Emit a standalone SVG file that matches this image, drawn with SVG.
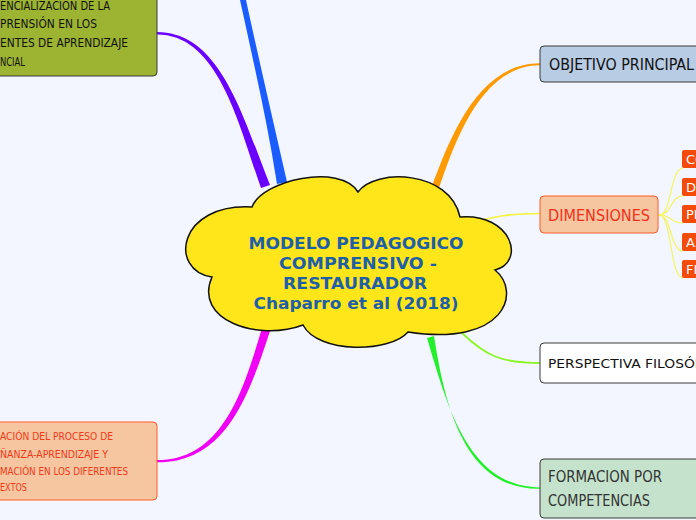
<svg xmlns="http://www.w3.org/2000/svg" width="696" height="520" viewBox="0 0 696 520">
<style>
.hand{font-family:"DejaVu Sans Condensed","DejaVu Sans","Liberation Sans",sans-serif;font-stretch:condensed}
.main{font-family:"DejaVu Sans","Verdana",sans-serif;font-weight:bold;font-size:16px;fill:#1e5fa8;text-anchor:middle}
.peach{fill:#f6c6a0;stroke:#ff5a2a;stroke-width:1}
.dark{stroke:#3a3a3a;stroke-width:1}
.sub{fill:#f44a0a}
.subt{font-family:"DejaVu Sans",sans-serif;font-size:13px;fill:#ffffff}
.thin{fill:none;stroke-linecap:round}
</style>
<rect x="0" y="0" width="696" height="520" fill="#f3f6fe"/>
<g id="connectors">
  <path d="M277,184 C267,120 253,60 240,0 L246,0 C259,60 273,120 287,182 Z" fill="#1a5cff"/>
  <path d="M261,188 C238,122 218,34.5 157,34.5 L157,32 C221,32 243,118 270,185 Z" fill="#6a00ff"/>
  <path d="M432,186 C450,138 478,63.3 540,63.3 L540,65.2 C481,65.5 455,142 439,188 Z" fill="#ff9a00"/>
  <path d="M470,224 C492,216 512,213.5 540,213.5" class="thin" stroke="#f3f33a" stroke-width="1.6"/>
  <path d="M462,333 C485,355 500,363 540,363" class="thin" stroke="#8cf52a" stroke-width="1.8"/>
  <path d="M427,338 C447,405 468,487 540,487.4 L540,488.8 C464,490 445,405 434,336 Z" fill="#22f02a"/>
  <path d="M262,328 C243,392 222,460 157,460 L157,462.2 C226,463 249,395 270,331 Z" fill="#f000f5"/>
  <g class="thin" stroke="#f5f560" stroke-width="1.2">
    <path d="M659,215 C672,215 670,168 683,168"/>
    <path d="M659,215 C672,215 670,196 683,196"/>
    <path d="M659,215 C672,215 670,223 683,223"/>
    <path d="M659,215 C672,215 670,251 683,251"/>
    <path d="M659,215 C672,215 670,278 683,278"/>
  </g>
</g>
<g id="center">
  <path d="M252,207 C262,180 340,163 358,192 C375,168 450,170 460,217 C512,213 526,262 495,270 C522,292 505,347 408,332 C390,353 318,354 303,325 C258,342 193,320 212,277 C168,270 178,203 252,207 Z" fill="#ffe61a" stroke="#111" stroke-width="1.5"/>
  <text class="main" x="356" y="249" textLength="215" lengthAdjust="spacingAndGlyphs">MODELO PEDAGOGICO</text>
  <text class="main" x="358" y="269" textLength="158" lengthAdjust="spacingAndGlyphs">COMPRENSIVO -</text>
  <text class="main" x="355" y="289" textLength="144" lengthAdjust="spacingAndGlyphs">RESTAURADOR</text>
  <text class="main" x="356" y="309" textLength="205" lengthAdjust="spacingAndGlyphs">Chaparro et al (2018)</text>
</g>
<g id="node-potencializacion">
  <rect x="-10" y="-10" width="167" height="86" rx="4" fill="#9cb432" class="dark"/>
  <g class="hand" font-size="12" fill="#111">
    <text x="0" y="10" textLength="110" lengthAdjust="spacingAndGlyphs">ENCIALIZACIÓN DE LA</text>
    <text x="0" y="28" textLength="97" lengthAdjust="spacingAndGlyphs">PRENSIÓN EN LOS</text>
    <text x="0" y="47" textLength="128" lengthAdjust="spacingAndGlyphs">ENTES DE APRENDIZAJE</text>
    <text x="0" y="66" textLength="25" lengthAdjust="spacingAndGlyphs">NCIAL</text>
  </g>
</g>
<g id="node-objetivo">
  <rect x="540" y="46" width="170" height="36" rx="4" fill="#b8cce4" class="dark"/>
  <text class="hand" x="549" y="70" font-size="15" fill="#111" textLength="145" lengthAdjust="spacingAndGlyphs">OBJETIVO PRINCIPAL</text>
</g>
<g id="node-dimensiones">
  <rect x="540" y="196" width="118" height="37" rx="4" class="peach"/>
  <text class="hand" x="548" y="221" font-size="16" fill="#f0301a" textLength="102" lengthAdjust="spacingAndGlyphs">DIMENSIONES</text>
</g>
<g id="node-dim-1"><rect x="682" y="150" width="30" height="18" rx="2" class="sub"/><text class="subt" x="686" y="164">CO</text></g>
<g id="node-dim-2"><rect x="682" y="178" width="30" height="18" rx="2" class="sub"/><text class="subt" x="686" y="192">DI</text></g>
<g id="node-dim-3"><rect x="682" y="205" width="30" height="18" rx="2" class="sub"/><text class="subt" x="686" y="219">PE</text></g>
<g id="node-dim-4"><rect x="682" y="233" width="30" height="18" rx="2" class="sub"/><text class="subt" x="686" y="247">AX</text></g>
<g id="node-dim-5"><rect x="682" y="260" width="30" height="18" rx="2" class="sub"/><text class="subt" x="686" y="274">FI</text></g>
<g id="node-perspectiva">
  <rect x="540" y="343" width="170" height="40" rx="4" fill="#ffffff" class="dark"/>
  <text class="hand" x="548" y="368" font-size="13" fill="#111" textLength="178" lengthAdjust="spacingAndGlyphs">PERSPECTIVA FILOSÓFICA</text>
</g>
<g id="node-formacion">
  <rect x="540" y="459" width="170" height="59" rx="4" fill="#c5e3cc" class="dark"/>
  <g class="hand" font-size="15" fill="#333">
    <text x="548" y="482" textLength="114" lengthAdjust="spacingAndGlyphs">FORMACION POR</text>
    <text x="548" y="506" textLength="102" lengthAdjust="spacingAndGlyphs">COMPETENCIAS</text>
  </g>
</g>
<g id="node-orientacion">
  <rect x="-10" y="422" width="167" height="78" rx="4" class="peach"/>
  <g class="hand" font-size="11" fill="#ee3a1a">
    <text x="0" y="440" textLength="113" lengthAdjust="spacingAndGlyphs">ACIÓN DEL PROCESO DE</text>
    <text x="0" y="458" textLength="108" lengthAdjust="spacingAndGlyphs">ÑANZA-APRENDIZAJE Y</text>
    <text x="0" y="475" textLength="128" lengthAdjust="spacingAndGlyphs">MACIÓN EN LOS DIFERENTES</text>
    <text x="0" y="491" textLength="27" lengthAdjust="spacingAndGlyphs">EXTOS</text>
  </g>
</g>
</svg>
